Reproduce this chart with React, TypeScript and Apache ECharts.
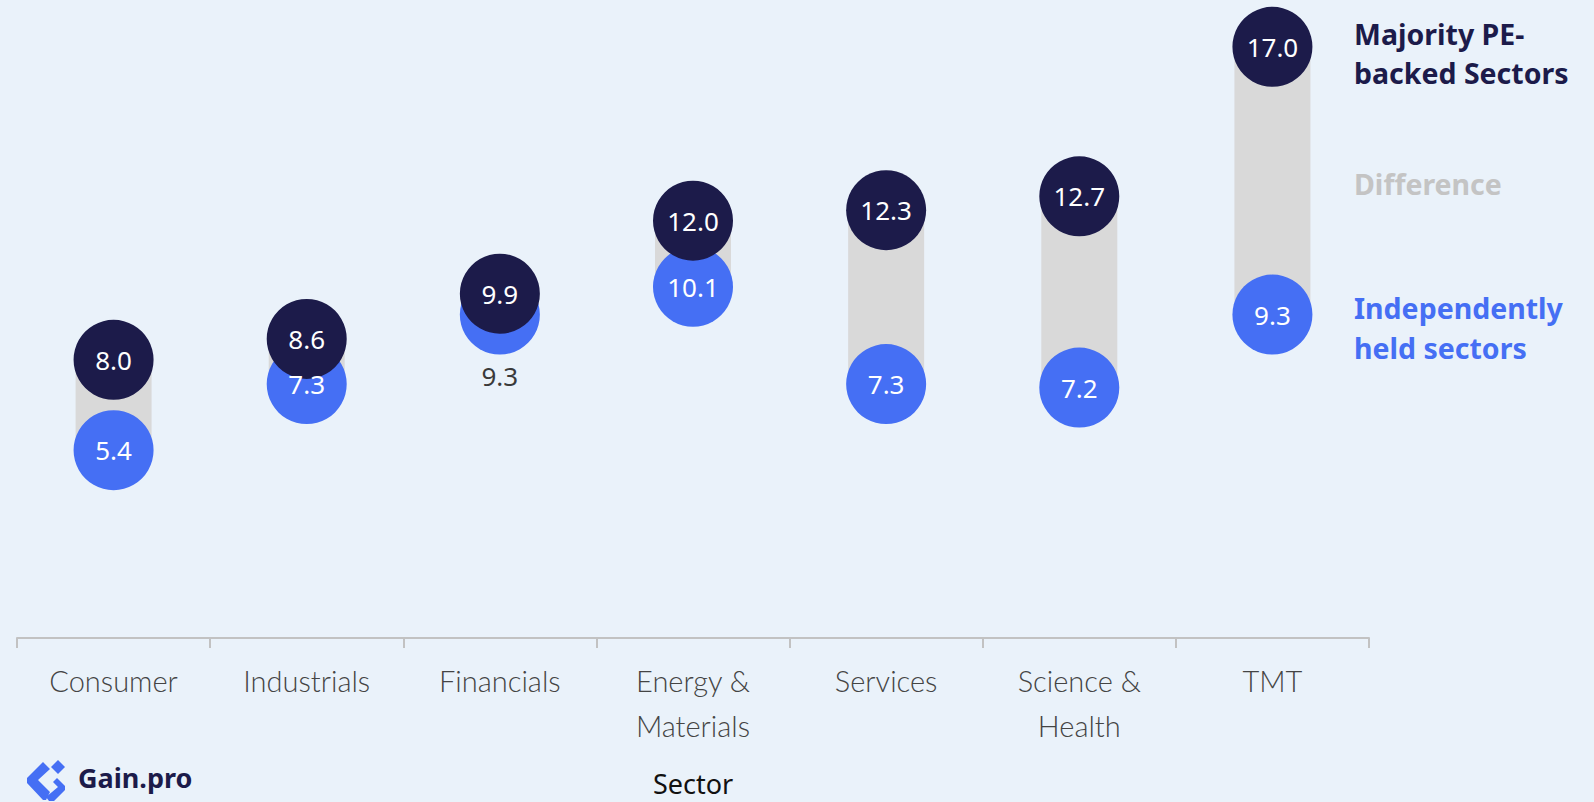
import React, { useEffect, useRef } from "react";
import * as echarts from "echarts";

const categories = ["Consumer", "Industrials", "Financials", "Energy &\nMaterials", "Services", "Science &\nHealth", "TMT"];
const peBacked = [8.0, 8.6, 9.9, 12.0, 12.3, 12.7, 17.0];
const independent = [5.4, 7.3, 9.3, 10.1, 7.3, 7.2, 9.3];

const NAVY = "#1c1b4a";
const BLUE = "#456ff4";
const GREY = "#d9d9d9";
const BG = "#eaf2fa";

export default function App() {
  const ref = useRef<HTMLDivElement>(null);
  useEffect(() => {
    document.body.style.margin = "0";
    const chart = echarts.init(ref.current!, null, { renderer: "svg" });
    const base = peBacked.map((v, i) => Math.min(v, independent[i]));
    const diff = peBacked.map((v, i) => Math.abs(v - independent[i]));
    const indData = independent.map((v, i) => {
      const overlap = Math.abs(peBacked[i] - v) < 1.0 && peBacked[i] > v;
      return overlap
        ? { value: v, label: { position: "bottom", distance: 48, color: "#3a3a3a", opacity: 1 } }
        : { value: v };
    });
    const labelStyle = {
      show: true,
      position: "inside",
      color: "#ffffff",
      opacity: 1,
      textBorderWidth: 0,
      fontFamily: "Noto Sans",
      fontSize: 26,
      formatter: (p: any) => Number(p.value).toFixed(1),
    };
    chart.setOption({
      animation: false,
      backgroundColor: BG,
      grid: { left: 17, right: 225, top: 12, bottom: 163, containLabel: false },
      xAxis: {
        type: "category",
        data: categories,
        axisLine: { show: true, lineStyle: { color: "#c2c2c2", width: 2 } },
        axisTick: { show: true, length: 10, alignWithLabel: false, interval: 0, lineStyle: { color: "#c2c2c2", width: 2 } },
        axisLabel: {
          fontFamily: "Lato",
          fontWeight: 300,
          fontSize: 29,
          lineHeight: 45,
          color: "#444444",
          margin: 20,
          interval: 0,
        },
        name: "Sector",
        nameLocation: "middle",
        nameGap: 132,
        nameTextStyle: { fontFamily: "Noto Sans", fontSize: 27, color: "#111111" },
      },
      yAxis: {
        type: "value",
        min: 0,
        max: 18,
        show: false,
        splitLine: { show: false },
      },
      series: [
        {
          type: "bar",
          stack: "d",
          data: base,
          barWidth: 76,
          itemStyle: { color: "transparent" },
          silent: true,
          z: 1,
        },
        {
          type: "bar",
          stack: "d",
          data: diff,
          barWidth: 76,
          itemStyle: { color: GREY },
          silent: true,
          z: 1,
        },
        {
          type: "scatter",
          data: independent,
          symbolSize: 80,
          itemStyle: { color: BLUE, opacity: 1 },
          label: { show: false },
          z: 3,
        },
        {
          type: "scatter",
          data: peBacked,
          symbolSize: 80,
          itemStyle: { color: NAVY, opacity: 1 },
          label: labelStyle,
          z: 4,
        },
        {
          type: "scatter",
          data: indData,
          symbolSize: 1,
          itemStyle: { color: "rgba(0,0,0,0)" },
          label: labelStyle,
          silent: true,
          z: 5,
        },
      ],
      graphic: [
        {
          type: "text",
          left: 1354,
          top: 14,
          style: {
            text: "Majority PE-\nbacked Sectors",
            fill: NAVY,
            font: "bold 28.5px 'Noto Sans'",
            lineHeight: 39,
          },
        },
        {
          type: "text",
          left: 1354,
          top: 164,
          style: { text: "Difference", fill: "#c4c4c4", font: "bold 28.5px 'Noto Sans'", lineHeight: 39 },
        },
        {
          type: "text",
          left: 1354,
          top: 288,
          style: {
            text: "Independently\nheld sectors",
            fill: BLUE,
            font: "bold 28.5px 'Noto Sans'",
            lineHeight: 40,
          },
        },
        {
          type: "group",
          left: 27,
          top: 760,
          children: [
            { type: "polygon", shape: { points: [[32, 1], [39, 8], [32, 15], [25, 8]] }, style: { fill: BLUE } },
            {
              type: "polygon",
              shape: { points: [[17, 3], [24, 10], [12, 21], [24, 33], [20, 41], [17, 41], [1, 24], [1, 19]] },
              style: { fill: BLUE },
            },
            {
              type: "polygon",
              shape: { points: [[31, 19], [39, 27], [39, 31], [28, 42], [23, 42], [20, 38], [32, 28], [27, 23]] },
              style: { fill: BLUE },
            },
          ],
        },
        {
          type: "text",
          left: 78,
          top: 764,
          style: { text: "Gain.pro", fill: NAVY, font: "bold 27px 'Noto Sans'" },
        },
      ],
    });
    return () => chart.dispose();
  }, []);
  return <div ref={ref} style={{ position: "fixed", left: 0, top: 0, width: 1594, height: 802 }} />;
}
